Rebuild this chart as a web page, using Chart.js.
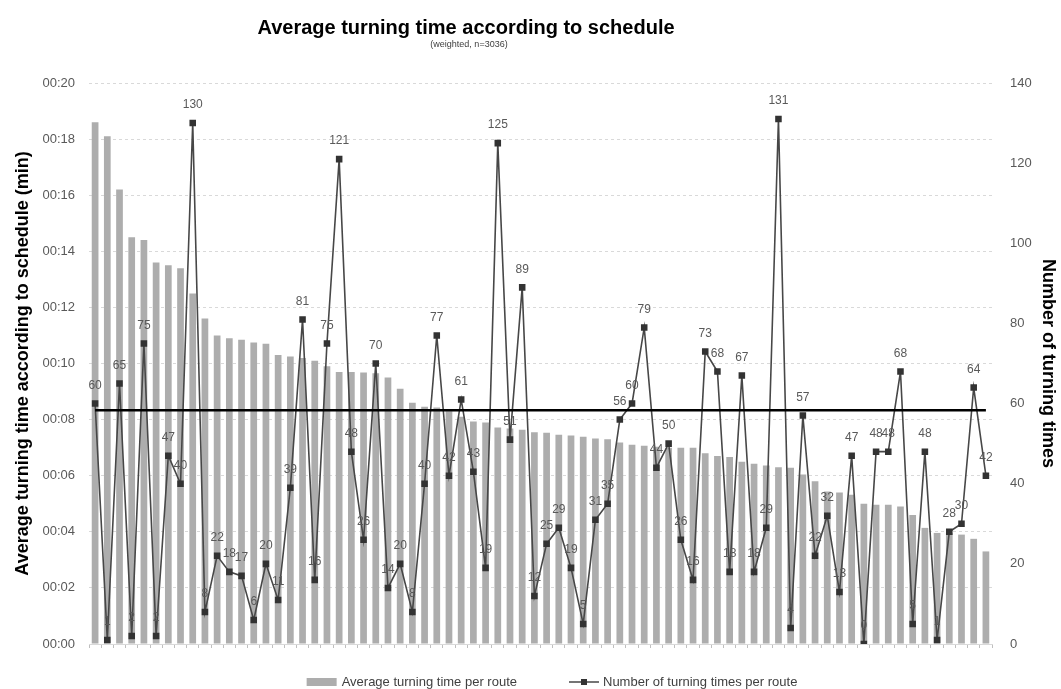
<!DOCTYPE html>
<html lang="en">
<head>
  <meta charset="UTF-8" />
  <title>Average turning time according to schedule</title>
  <script src="https://cdn.jsdelivr.net/npm/chart.js@4.4.0/dist/chart.umd.min.js"></script>
  <style>
    html, body { margin: 0; padding: 0; background: #fff; }
    #wrap { width: 1061px; height: 689px; }
  </style>
</head>
<body>
  <div id="wrap"><canvas id="turnChart"></canvas></div>

  <script>
    // average turning time per route in seconds (routes sorted by this value)
    const avgTime = [
      18.6, 18.1, 16.2, 14.5, 14.4, 13.6, 13.5, 13.4, 12.5, 11.6,
      11.0, 10.9, 10.85, 10.75, 10.7, 10.3, 10.25, 10.2, 10.1, 9.9,
      9.7, 9.7, 9.68, 9.65, 9.5, 9.1, 8.6, 8.46, 8.43, 8.3,
      8.1, 7.93, 7.9, 7.72, 7.68, 7.64, 7.55, 7.53, 7.46, 7.43,
      7.39, 7.33, 7.3, 7.18, 7.1, 7.07, 7.03, 7.0, 7.0, 7.0,
      6.8, 6.7, 6.67, 6.5, 6.43, 6.36, 6.3, 6.28, 6.04, 5.8,
      5.44, 5.4, 5.32, 5.0, 4.96, 4.96, 4.9, 4.6, 4.14, 3.96,
      3.96, 3.9, 3.75, 3.3
    ];
    // number of turnings per route
    const turnCount = [
      60, 1, 65, 2, 75, 2, 47, 40, 130, 8,
      22, 18, 17, 6, 20, 11, 39, 81, 16, 75,
      121, 48, 26, 70, 14, 20, 8, 40, 77, 42,
      61, 43, 19, 125, 51, 89, 12, 25, 29, 19,
      5, 31, 35, 56, 60, 79, 44, 50, 26, 16,
      73, 68, 18, 67, 18, 29, 131, 4, 57, 22,
      32, 13, 47, 0, 48, 48, 68, 5, 48, 1,
      28, 30, 64, 42
    ];
    const routes = avgTime.map((_, i) => 'Route ' + (i + 1));
    const weightedMean = 8.33;   // black reference line, seconds
    const timeTicks = [0, 2, 4, 6, 8, 10, 12, 14, 16, 18, 20];
    const countTicks = [0, 20, 40, 60, 80, 100, 120, 140];

    const FONT = '"Liberation Sans", Arial, sans-serif';
    Chart.defaults.font.family = FONT;

    // title block, sits left of the canvas centre like the original
    const topTitle = {
      id: 'topTitle',
      afterDraw(chart) {
        const ctx = chart.ctx;
        ctx.save();
        ctx.textAlign = 'center';
        ctx.textBaseline = 'middle';
        ctx.fillStyle = '#000000';
        ctx.font = 'bold 20px ' + FONT;
        ctx.fillText('Average turning time according to schedule', 466, 28);
        ctx.fillStyle = '#404040';
        ctx.font = '9px ' + FONT;
        ctx.fillText('(weighted, n=3036)', 469, 45);
        ctx.restore();
      }
    };

    // value labels above the line markers
    const pointLabels = {
      id: 'pointLabels',
      afterDatasetsDraw(chart) {
        const meta = chart.getDatasetMeta(1);
        const ctx = chart.ctx;
        ctx.save();
        ctx.font = '12px ' + FONT;
        ctx.fillStyle = '#595959';
        ctx.textAlign = 'center';
        ctx.textBaseline = 'bottom';
        meta.data.forEach((pt, i) => {
          ctx.fillText(String(turnCount[i]), pt.x, pt.y - 12);
        });
        ctx.restore();
      }
    };

    // legend row under the plot
    const bottomLegend = {
      id: 'bottomLegend',
      afterDraw(chart) {
        const ctx = chart.ctx;
        const bars = chart.data.datasets[2];
        const line = chart.data.datasets[1];
        ctx.save();
        ctx.font = '13px ' + FONT;
        ctx.textBaseline = 'middle';
        const w1 = ctx.measureText(bars.label).width;
        const w2 = ctx.measureText(line.label).width;
        const total = 30 + 5 + w1 + 52 + 30 + 4 + w2;
        let x = 552 - total / 2;
        const y = 682;
        ctx.fillStyle = bars.backgroundColor;
        ctx.fillRect(x, y - 4, 30, 8);
        x += 35;
        ctx.fillStyle = '#404040';
        ctx.fillText(bars.label, x, y);
        x += w1 + 52;
        ctx.strokeStyle = line.borderColor;
        ctx.lineWidth = 1.5;
        ctx.beginPath();
        ctx.moveTo(x, y);
        ctx.lineTo(x + 30, y);
        ctx.stroke();
        ctx.fillStyle = line.pointBackgroundColor;
        ctx.fillRect(x + 12, y - 3, 6, 6);
        x += 34;
        ctx.fillStyle = '#404040';
        ctx.fillText(line.label, x, y);
        ctx.restore();
      }
    };

    new Chart(document.getElementById('turnChart'), {
      data: {
        labels: routes,
        datasets: [
          {
            type: 'line',
            label: 'Weighted average turning time',
            data: routes.map(() => weightedMean),
            yAxisID: 'yTime',
            borderColor: '#000000',
            borderWidth: 2.5,
            pointRadius: 0,
            order: 0
          },
          {
            type: 'line',
            label: 'Number of turning times per route',
            data: turnCount,
            yAxisID: 'yCount',
            borderColor: '#474747',
            borderWidth: 1.6,
            pointStyle: 'rect',
            pointRadius: 3.5,
            pointBackgroundColor: '#333333',
            pointBorderColor: '#333333',
            tension: 0,
            order: 1
          },
          {
            type: 'bar',
            label: 'Average turning time per route',
            data: avgTime,
            yAxisID: 'yTime',
            backgroundColor: '#adadad',
            barPercentage: 0.55,
            categoryPercentage: 1,
            order: 2
          }
        ]
      },
      options: {
        responsive: true,
        maintainAspectRatio: false,
        animation: false,
        layout: { padding: { left: 4, right: 2, top: 83, bottom: 37 } },
        plugins: {
          legend: { display: false },
          tooltip: { enabled: false }
        },
        scales: {
          x: {
            ticks: { display: false },
            grid: { drawOnChartArea: false, drawTicks: true, tickLength: 4, color: '#bfbfbf' },
            border: { color: '#d9d9d9' },
            afterFit(s) { s.height = 8; }
          },
          yTime: {
            position: 'left',
            min: 0,
            max: 20,
            afterBuildTicks(s) { s.ticks = timeTicks.map(v => ({ value: v })); },
            ticks: {
              color: '#595959',
              font: { size: 13 },
              padding: 14,
              callback: v => '00:' + String(v).padStart(2, '0')
            },
            grid: { color: '#d9d9d9', drawTicks: false },
            border: { display: false, dash: [3, 3] },
            title: {
              display: true,
              text: 'Average turning time according to schedule (min)',
              color: '#000000',
              font: { size: 18, weight: 'bold' },
              padding: { top: 8, bottom: 0 }
            },
            afterFit(s) { s.width = 85; }
          },
          yCount: {
            position: 'right',
            min: 0,
            max: 140,
            afterBuildTicks(s) { s.ticks = countTicks.map(v => ({ value: v })); },
            ticks: { color: '#595959', font: { size: 13 }, padding: 18 },
            grid: { display: false, drawTicks: false },
            border: { display: false },
            title: {
              display: true,
              text: 'Number of turning times',
              color: '#000000',
              font: { size: 18, weight: 'bold' },
              padding: { top: 0, bottom: 0 }
            },
            afterFit(s) { s.width = 67; }
          }
        }
      },
      plugins: [topTitle, pointLabels, bottomLegend]
    });
  </script>
</body>
</html>
